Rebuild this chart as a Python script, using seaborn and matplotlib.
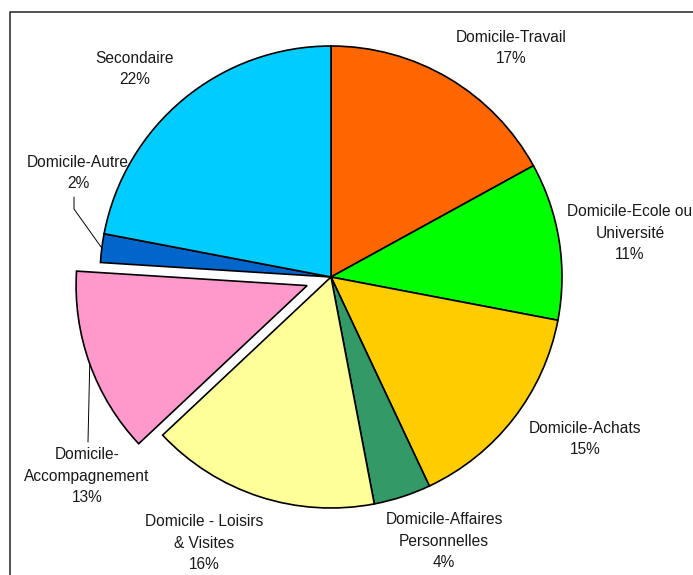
import numpy as np
import matplotlib.pyplot as plt
import seaborn as sns

# --- Data ---
categories = [
    "Domicile-Travail",
    "Domicile-Ecole ou\nUniversité",
    "Domicile-Achats",
    "Domicile-Affaires\nPersonnelles",
    "Domicile - Loisirs\n& Visites",
    "Domicile-\nAccompagnement",
    "Domicile-Autre",
    "Secondaire",
]
shares = [17, 11, 15, 4, 16, 13, 2, 22]
colors = ["#FF6600", "#00FF00", "#FFCC00", "#339966",
          "#FFFF99", "#FF99CC", "#0066CC", "#00CCFF"]
explode = [0, 0, 0, 0, 0, 0.11, 0, 0]

# label centres in pixel coords (x, y from top) -- layout only
label_pos = [(511, 48), (630, 233), (585, 439), (444, 541),
             (204, 543), (87, 476), (78, 173), (135, 69)]
# categories that get a leader line: index -> (elbow points in px)
leaders = {6: [(74, 197), (74, 209)], 5: [(88, 442)]}

W, H = 693, 575
CX, CY, R = 331, 277, 231

sns.set_theme(style="white")
plt.rcParams["font.family"] = ["Liberation Sans", "DejaVu Sans"]

fig = plt.figure(figsize=(W / 100, H / 100), dpi=100)
ax = fig.add_axes([0, 0, 1, 1])

# pie explode is in data units, so scale the fractions by the radius
wedges, _ = ax.pie(
    shares, colors=colors, explode=[e * R for e in explode],
    startangle=90, counterclock=False,
    center=(CX, H - CY), radius=R,
    wedgeprops=dict(edgecolor="black", linewidth=1.2),
)
ax.set_xlim(0, W)
ax.set_ylim(0, H)
ax.set_aspect("equal")
ax.axis("off")

total = sum(shares)
for i, (lab, val) in enumerate(zip(categories, shares)):
    x, y = label_pos[i]
    ax.text(x, H - y, f"{lab}\n{val / total:.0%}", ha="center", va="center",
            fontsize=11.2, color="#1a1a1a", linespacing=1.55)

# leader lines to the outer arc of the wedge
for i, pts in leaders.items():
    w = wedges[i]
    mid = np.deg2rad((w.theta1 + w.theta2) / 2)
    ex = w.center[0] + R * np.cos(mid)
    ey = w.center[1] + R * np.sin(mid)
    xs = [p[0] for p in pts] + [ex]
    ys = [H - p[1] for p in pts] + [ey]
    ax.plot(xs, ys, color="black", lw=0.7)

# chart frame (cropped on the right and bottom)
ax.plot([10, 10, W + 5], [-5, H - 12, H - 12], color="#333333", lw=1.2,
        clip_on=False)

fig.savefig("out.png", dpi=100)
